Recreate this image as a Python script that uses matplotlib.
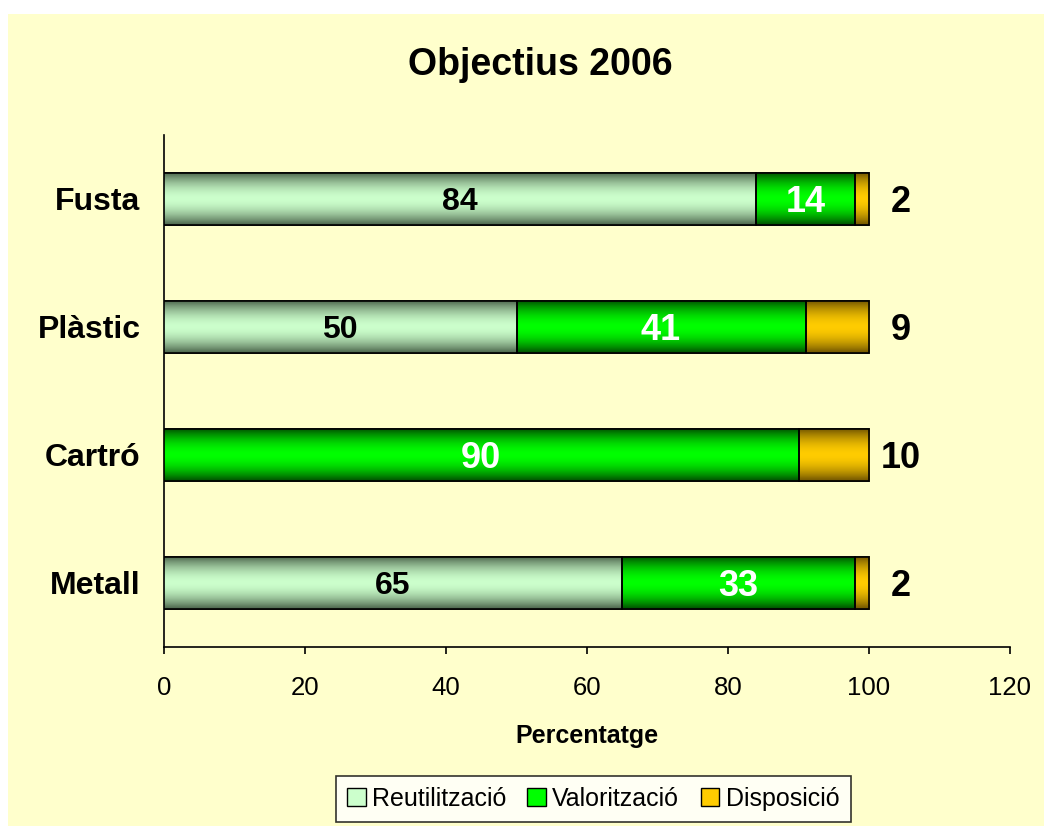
import matplotlib.pyplot as plt
import numpy as np
from matplotlib.patches import Rectangle, Patch
from matplotlib.colors import to_rgb

plt.rcParams['font.family'] = ['Liberation Sans', 'DejaVu Sans']

# dades (de baix a dalt)
categories = ['Metall', 'Cartró', 'Plàstic', 'Fusta']
reutilitzacio = [65, 0, 50, 84]
valoritzacio = [33, 90, 41, 14]
disposicio = [2, 10, 9, 2]
series_names = ['Reutilització', 'Valorització', 'Disposició']
xticks = [0, 20, 40, 60, 80, 100, 120]

bg = '#FFFFCC'
# (centre, vora) per a cada serie
colors = [('#CCFFCC', '#4A634A'), ('#00FF00', '#004F00'), ('#FFCC00', '#705400')]


def gradient(center, edge, n=64):
    c = np.array(to_rgb(center))
    e = np.array(to_rgb(edge))
    t = np.abs(np.linspace(-1, 1, n))
    w = t ** 1.8
    return (c[None, :] * (1 - w[:, None]) + e[None, :] * w[:, None])[:, None, :]


fig = plt.figure(figsize=(10.44, 8.26), dpi=100)
fig.patch.set_facecolor('white')
fig.patches.append(Rectangle((8 / 1044, 0), 1, 1 - 14 / 826, transform=fig.transFigure,
                             facecolor=bg, edgecolor='none', zorder=-10))

ax = fig.add_axes([164 / 1044, 1 - 647 / 826, 846 / 1044, 512 / 826])
ax.set_facecolor(bg)

y = np.arange(len(categories))
h = 0.41
left = np.zeros(len(categories))
for vals, (cc, ec) in zip([reutilitzacio, valoritzacio, disposicio], colors):
    bars = ax.barh(y, vals, left=left, height=h, facecolor=cc, edgecolor='black', linewidth=1.2, zorder=3)
    img = gradient(cc, ec)
    for b, v in zip(bars, vals):
        if v == 0:
            b.set_visible(False)
            continue
        x0, y0 = b.get_x(), b.get_y()
        im = ax.imshow(img, extent=[x0, x0 + b.get_width(), y0, y0 + b.get_height()],
                       aspect='auto', origin='lower', zorder=3.5, interpolation='bilinear')
        im.set_clip_path(b)
        edge = Rectangle((x0, y0), b.get_width(), b.get_height(), facecolor='none',
                         edgecolor='black', linewidth=1.2, zorder=4)
        ax.add_patch(edge)
    left = left + np.array(vals)

# etiquetes
for i in range(len(categories)):
    r, v, d = reutilitzacio[i], valoritzacio[i], disposicio[i]
    if r > 0:
        ax.text(r / 2, y[i], str(r), ha='center', va='center_baseline', fontsize=23,
                fontweight='bold', color='black', zorder=5)
    ax.text(r + v / 2, y[i], str(v), ha='center', va='center_baseline', fontsize=26,
            fontweight='bold', color='white', zorder=5)
    ax.text(104.5, y[i], str(d), ha='center', va='center_baseline', fontsize=26,
            fontweight='bold', color='black', zorder=5)

ax.set_xlim(0, 120)
ax.set_ylim(-0.5, 3.5)
ax.set_xticks(xticks)
ax.set_xticklabels([str(t) for t in xticks], fontsize=18.5)
ax.set_yticks(y)
ax.set_yticklabels(categories, fontsize=23, fontweight='bold')
ax.tick_params(axis='x', direction='out', length=5, width=1.2, pad=16)
ax.tick_params(axis='y', length=0, pad=17)
for s in ['top', 'right']:
    ax.spines[s].set_visible(False)
for s in ['left', 'bottom']:
    ax.spines[s].set_linewidth(1.2)

fig.text(540 / 1044, 1 - 65 / 826, 'Objectius 2006', ha='center', va='center',
         fontsize=27, fontweight='bold')
fig.text(587 / 1044, 1 - 736 / 826, 'Percentatge', ha='center', va='center',
         fontsize=18, fontweight='bold')

handles = [Patch(facecolor=cc, edgecolor='black', linewidth=1) for cc, ec in colors]
leg = fig.legend(handles, series_names, loc='center', bbox_to_anchor=(593 / 1044, 1 - 799 / 826),
                 ncol=3, fontsize=18, frameon=True, fancybox=False, edgecolor='black',
                 handlelength=0.75, handleheight=0.75, handletextpad=0.25, columnspacing=0.85,
                 borderpad=0.45, borderaxespad=0)
leg.get_frame().set_linewidth(1.2)
leg.get_frame().set_facecolor('white')

fig.savefig('out.png', dpi=100, facecolor=fig.get_facecolor())
